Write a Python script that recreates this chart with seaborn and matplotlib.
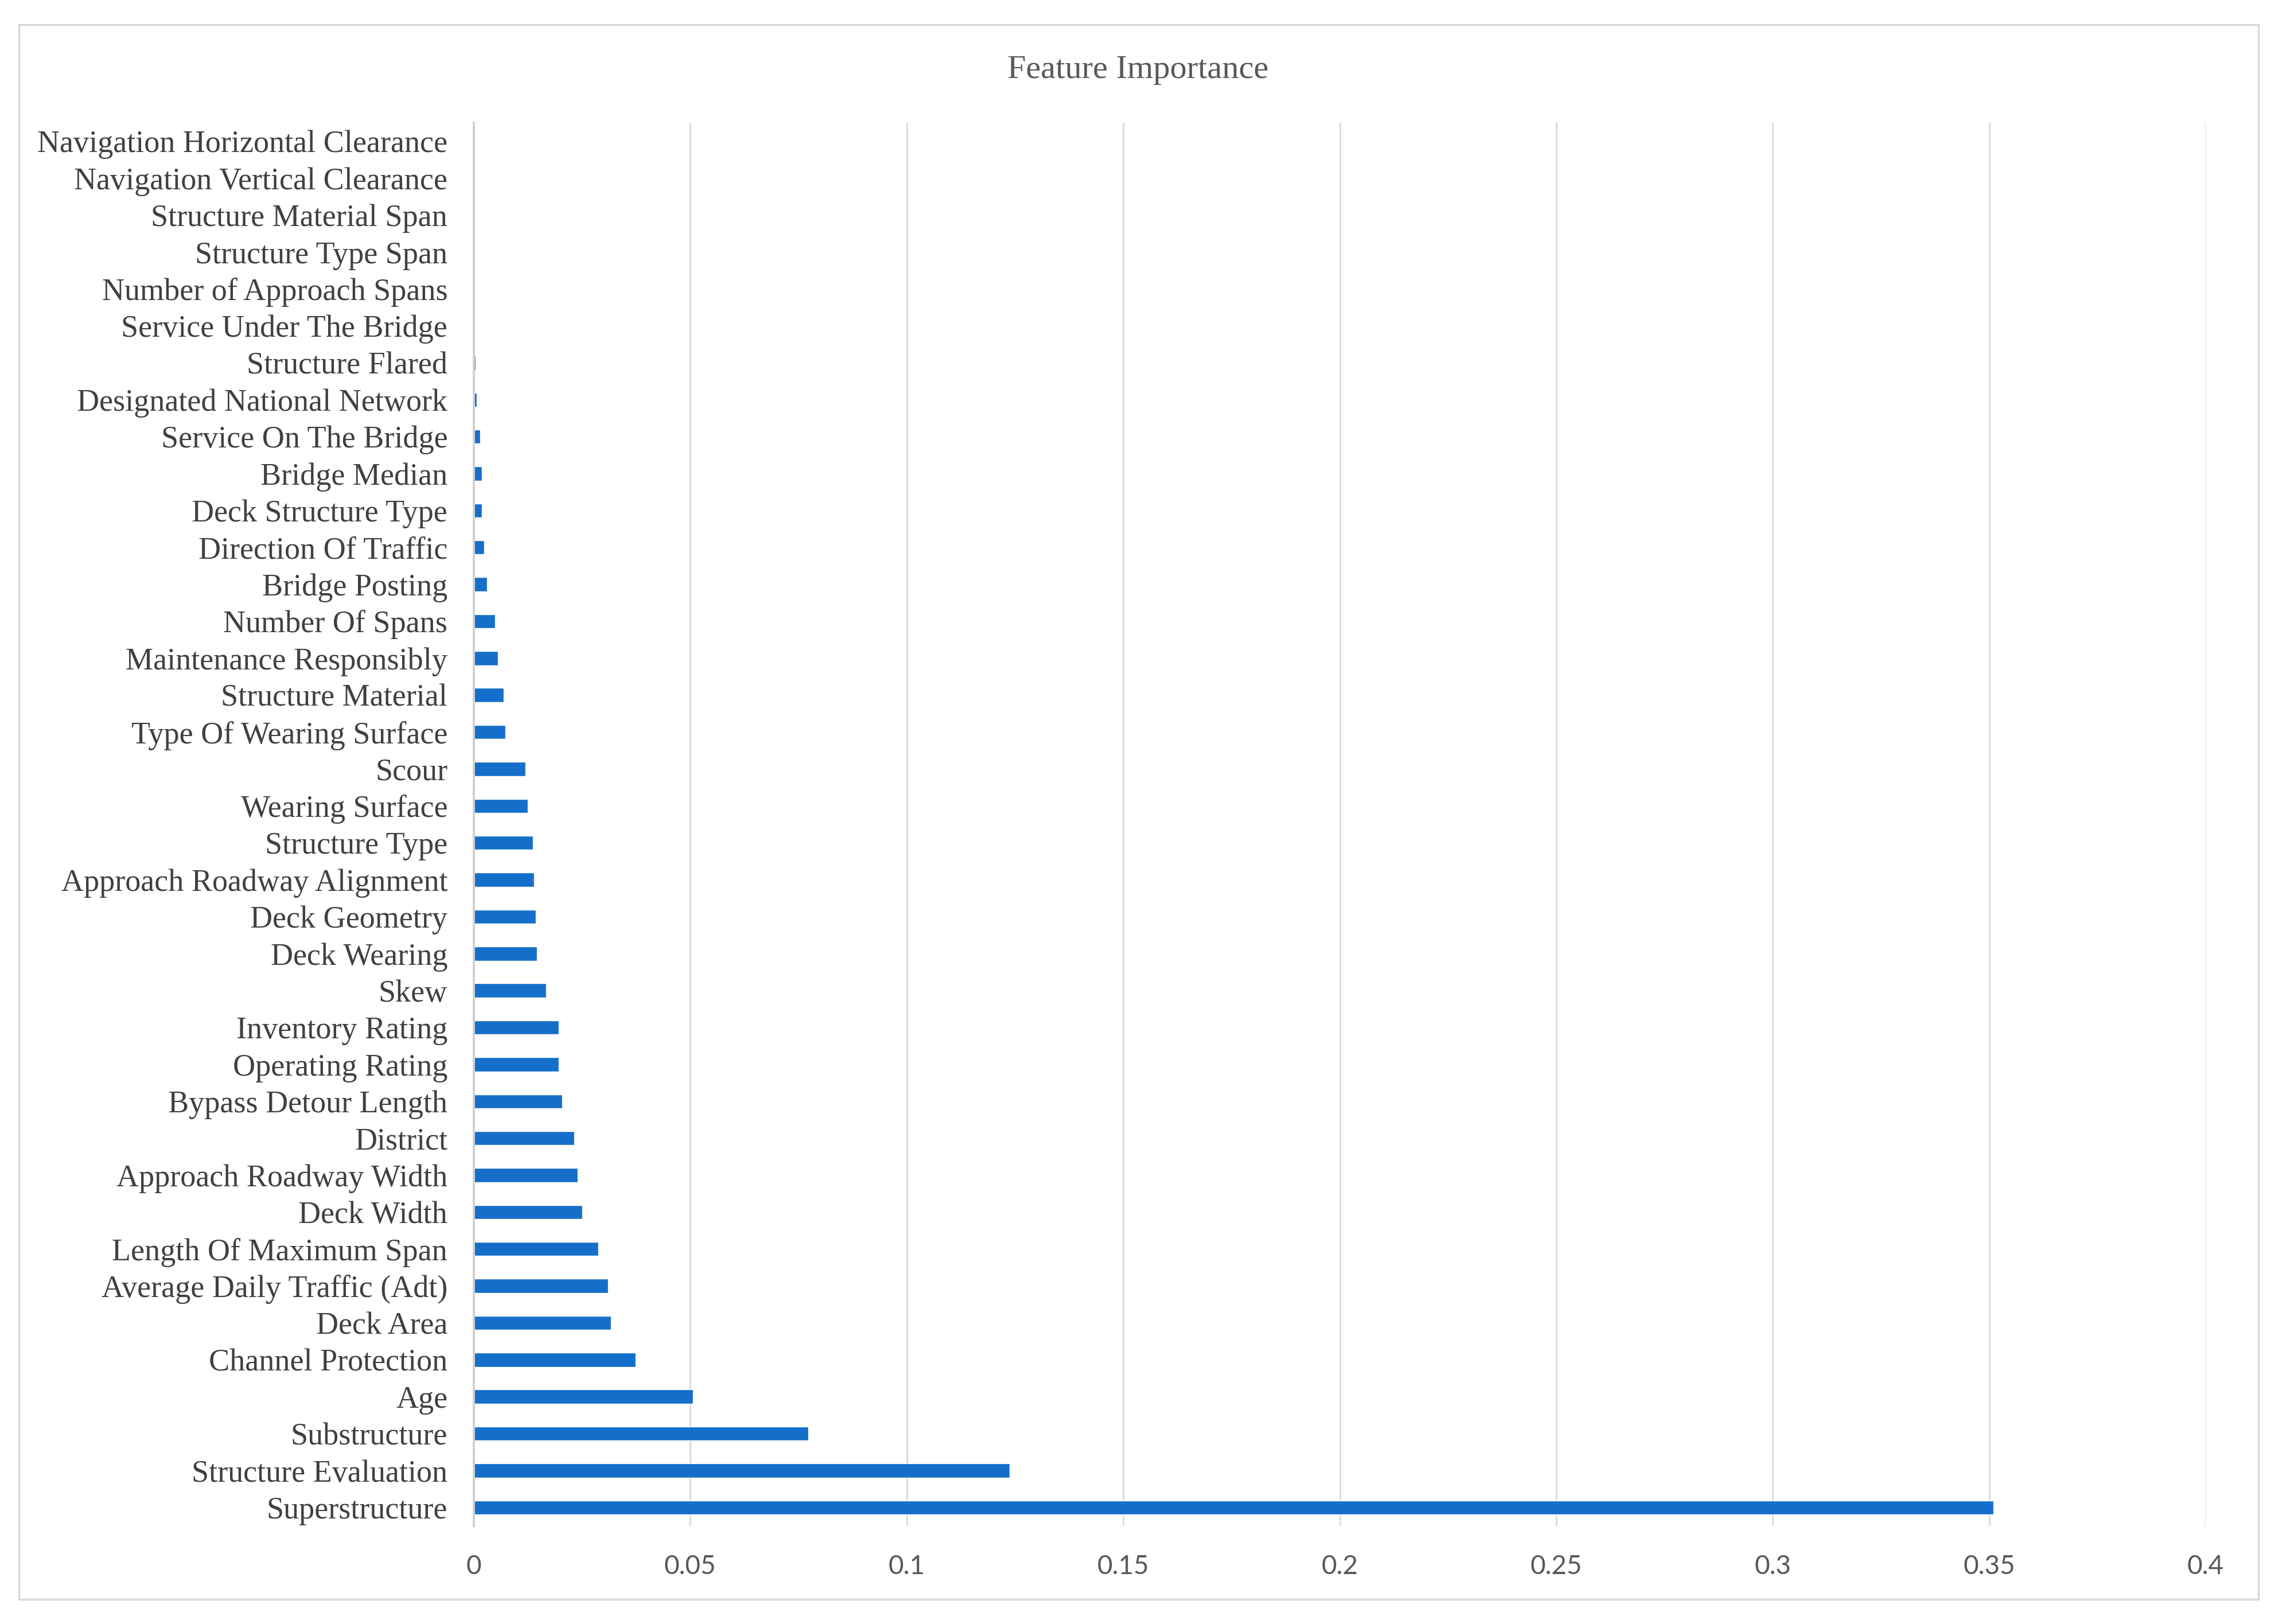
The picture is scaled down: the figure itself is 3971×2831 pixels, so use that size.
import matplotlib
matplotlib.use("Agg")
import matplotlib.pyplot as plt
import seaborn as sns
import pandas as pd
from matplotlib.patches import Rectangle

features = [
    "Navigation Horizontal Clearance", "Navigation Vertical Clearance",
    "Structure Material Span", "Structure Type Span", "Number of Approach Spans",
    "Service Under The Bridge", "Structure Flared", "Designated National Network",
    "Service On The Bridge", "Bridge Median", "Deck Structure Type",
    "Direction Of Traffic", "Bridge Posting", "Number Of Spans",
    "Maintenance Responsibly", "Structure Material", "Type Of Wearing Surface",
    "Scour", "Wearing Surface", "Structure Type", "Approach Roadway Alignment",
    "Deck Geometry", "Deck Wearing", "Skew", "Inventory Rating",
    "Operating Rating", "Bypass Detour Length", "District",
    "Approach Roadway Width", "Deck Width", "Length Of Maximum Span",
    "Average Daily Traffic (Adt)", "Deck Area", "Channel Protection", "Age",
    "Substructure", "Structure Evaluation", "Superstructure",
]
importance = [
    0.0, 0.0, 0.0, 0.0, 0.0,
    0.0002, 0.0004, 0.0006,
    0.0014, 0.0019, 0.0019,
    0.0024, 0.0031, 0.0049,
    0.0055, 0.0069, 0.0073,
    0.0119, 0.0125, 0.0137, 0.0139,
    0.0143, 0.0146, 0.0167, 0.0196,
    0.0196, 0.0204, 0.0232,
    0.0240, 0.0250, 0.0287,
    0.0310, 0.0316, 0.0373, 0.0506,
    0.0773, 0.1238, 0.3510,
]
xticks = [0, 0.05, 0.1, 0.15, 0.2, 0.25, 0.3, 0.35, 0.4]
xtick_labels = ["0", "0.05", "0.1", "0.15", "0.2", "0.25", "0.3", "0.35", "0.4"]
title = "Feature Importance"

df = pd.DataFrame({"feature": features, "importance": importance})

sns.set_theme(style="white")
plt.rcParams["font.family"] = ["Liberation Serif", "DejaVu Serif"]

W, H = 3971, 2831
fig = plt.figure(figsize=(W / 100, H / 100), dpi=100)
fig.patch.set_facecolor("white")
ax = fig.add_axes([826 / W, 1 - 2660 / H, (3845 - 826) / W, (2660 - 214) / H])

sns.barplot(data=df, x="importance", y="feature", order=features,
            color="#156FCA", saturation=1, width=0.38, ax=ax, zorder=3)

ax.set_xlim(0, 0.4)
ax.set_ylim(len(features) - 0.5, -0.5)
ax.set_xticks(xticks)
ax.set_xticklabels(xtick_labels, fontfamily=["Lato", "DejaVu Sans"],
                   fontsize=33, color="#595959")
ax.tick_params(axis="x", length=0, pad=36)
ax.tick_params(axis="y", length=0, pad=33, labelsize=39, labelcolor="#404040")
ax.set_xlabel("")
ax.set_ylabel("")
for s in ["top", "right", "bottom"]:
    ax.spines[s].set_visible(False)
ax.spines["left"].set_color("#d0d0d0")
ax.spines["left"].set_linewidth(2.8)
ax.spines["left"].set_zorder(4)
ax.xaxis.grid(True, color="#d9d9d9", linewidth=2.0, zorder=0)
ax.set_axisbelow(True)

fig.text(1984 / W, 1 - 122 / H, title, ha="center", va="center",
         fontsize=42, color="#595959")

fig.patches.append(Rectangle((33 / W, 1 - 2788 / H), (3937 - 33) / W, (2788 - 43) / H,
                             transform=fig.transFigure, fill=False,
                             edgecolor="#d9d9d9", linewidth=2.5))

fig.savefig("out.png", dpi=100, facecolor="white")
